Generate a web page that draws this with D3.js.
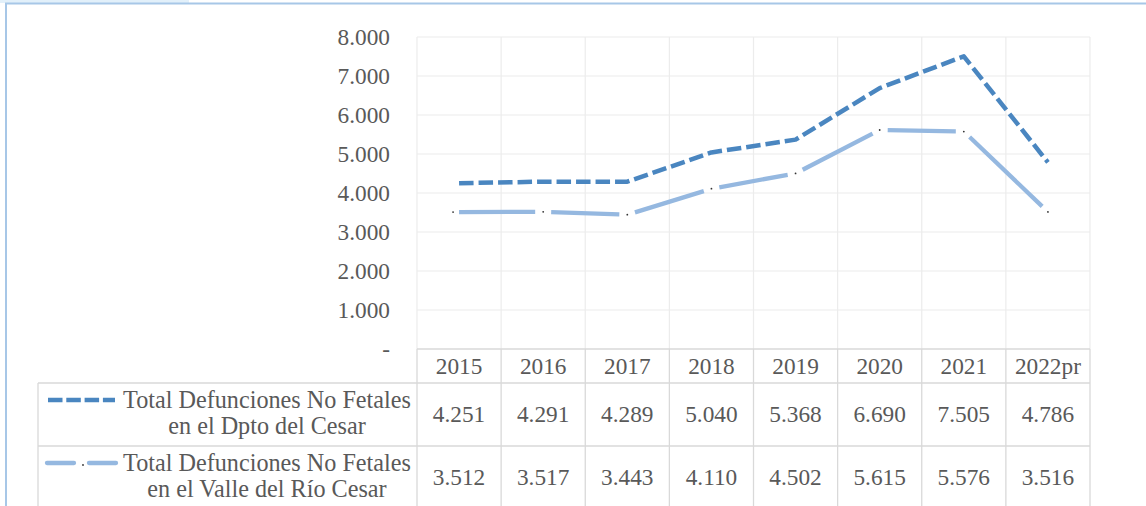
<!DOCTYPE html>
<html>
<head>
<meta charset="utf-8">
<script src="https://cdn.jsdelivr.net/npm/d3@7"></script>
<style>
    body { margin: 0; background: #fff; }
    svg { display: block; }
    .serif { font-family: "Liberation Serif", "Times New Roman", serif; }
</style>
</head>
<body>
<div id="chart"></div>
<script>
// chart data
var years = ["2015", "2016", "2017", "2018", "2019", "2020", "2021", "2022pr"];
var dptoCesar = [4251, 4291, 4289, 5040, 5368, 6690, 7505, 4786];
var valleCesar = [3512, 3517, 3443, 4110, 4502, 5615, 5576, 3516];
var yTicks = [0, 1000, 2000, 3000, 4000, 5000, 6000, 7000, 8000];
var seriesLabels = [
    ["Total Defunciones No Fetales", "en el Dpto del Cesar"],
    ["Total Defunciones No Fetales", "en el Valle del Río Cesar"]
];

var W = 1146, H = 506;
var plot = {left: 417, right: 1090, top: 37, bottom: 349};
var table = {left: 38, headBottom: 383, row1Bottom: 446, rowH: 63};
var fontSize = 23.3;
var legendSize = 24.2;
var textColor = "#595959";
var gridColor = "#ececec";
var tableColor = "#d9d9d9";
var col1 = "#4a86c0";
var col2 = "#95b8e0";

var esLocale = d3.formatLocale({decimal: ",", thousands: ".", grouping: [3], currency: ["$", ""]});
var fmt = esLocale.format(",");

var svg = d3.select("#chart").append("svg")
    .attr("class", "serif")
    .attr("width", W)
    .attr("height", H);

/**
 *  outer frame
 */
svg.append("rect").attr("x", 0).attr("y", 0).attr("width", 189).attr("height", 3).attr("fill", "#e2f0fa");
svg.append("path")
    .attr("d", "M6,506 L6,3.5 L1146,3.5")
    .attr("fill", "none")
    .attr("stroke", "#a7c7e7")
    .attr("stroke-width", 2);

var x = d3.scaleBand()
    .domain(years)
    .range([plot.left, plot.right])
    .padding(0);

var y = d3.scaleLinear()
    .domain([0, 8000])
    .range([plot.bottom, plot.top]);

function cx(d) { return x(d) + x.bandwidth() / 2; }

// horizontal gridlines
svg.append("g")
    .selectAll("line")
    .data(yTicks.filter(function (t) { return t > 0; }))
    .enter().append("line")
    .attr("x1", plot.left).attr("x2", plot.right)
    .attr("y1", function (d) { return y(d); })
    .attr("y2", function (d) { return y(d); })
    .attr("stroke", gridColor)
    .attr("stroke-width", 1.2);

// vertical gridlines at category edges
var edges = years.map(function (d) { return x(d); }).concat([plot.right]);
svg.append("g")
    .selectAll("line")
    .data(edges)
    .enter().append("line")
    .attr("x1", function (d) { return d; })
    .attr("x2", function (d) { return d; })
    .attr("y1", plot.top).attr("y2", plot.bottom)
    .attr("stroke", gridColor)
    .attr("stroke-width", 1.2);

// y axis labels
var yAxis = d3.axisLeft(y)
    .tickValues(yTicks)
    .tickSize(0)
    .tickPadding(27)
    .tickFormat(function (d) { return d === 0 ? "-" : fmt(d); });

var yg = svg.append("g")
    .attr("transform", "translate(" + plot.left + ",0)")
    .call(yAxis);
yg.select(".domain").remove();
yg.attr("font-family", null).attr("font-size", null);
yg.selectAll("text")
    .attr("fill", textColor)
    .style("font-size", fontSize + "px");

/**
 *  data table grid
 */
var tg = svg.append("g").attr("stroke", tableColor).attr("stroke-width", 1.3).attr("fill", "none");
tg.append("line").attr("x1", plot.left).attr("x2", plot.right).attr("y1", plot.bottom).attr("y2", plot.bottom);
tg.append("line").attr("x1", table.left).attr("x2", plot.right).attr("y1", table.headBottom).attr("y2", table.headBottom);
tg.append("line").attr("x1", table.left).attr("x2", plot.right).attr("y1", table.row1Bottom).attr("y2", table.row1Bottom);
tg.append("line").attr("x1", table.left).attr("x2", table.left).attr("y1", table.headBottom).attr("y2", H);
tg.selectAll("line.col")
    .data(edges)
    .enter().append("line")
    .attr("class", "col")
    .attr("x1", function (d) { return d; })
    .attr("x2", function (d) { return d; })
    .attr("y1", plot.bottom).attr("y2", H);

// header labels
svg.append("g")
    .selectAll("text")
    .data(years)
    .enter().append("text")
    .attr("x", cx)
    .attr("y", (plot.bottom + table.headBottom) / 2)
    .attr("dy", "0.34em")
    .attr("text-anchor", "middle")
    .attr("fill", textColor)
    .style("font-size", fontSize + "px")
    .text(function (d) { return d; });

// table values and series names
[dptoCesar, valleCesar].forEach(function (vals, r) {
    var mid = table.headBottom + table.rowH * r + table.rowH / 2;
    svg.append("g")
        .selectAll("text")
        .data(vals)
        .enter().append("text")
        .attr("x", function (d, i) { return cx(years[i]); })
        .attr("y", mid)
        .attr("dy", "0.34em")
        .attr("text-anchor", "middle")
        .attr("fill", textColor)
        .style("font-size", fontSize + "px")
        .text(function (d) { return fmt(d); });

    var lt = svg.append("text")
        .attr("text-anchor", "middle")
        .attr("fill", textColor)
        .style("font-size", legendSize + "px");
    lt.append("tspan").attr("x", 267).attr("y", mid - 7).text(seriesLabels[r][0]);
    lt.append("tspan").attr("x", 267).attr("y", mid + 19.8).text(seriesLabels[r][1]);
});

/**
 *  legend keys
 */
var k1y = 400, k2y = 463;
svg.append("line")
    .attr("x1", 48).attr("x2", 115).attr("y1", k1y).attr("y2", k1y)
    .attr("stroke", col1).attr("stroke-width", 4.5)
    .attr("stroke-dasharray", "14.5,3.8");
svg.append("line")
    .attr("x1", 47).attr("x2", 74).attr("y1", k2y).attr("y2", k2y)
    .attr("stroke", col2).attr("stroke-width", 4.3).attr("stroke-linecap", "round");
svg.append("line")
    .attr("x1", 89).attr("x2", 116).attr("y1", k2y).attr("y2", k2y)
    .attr("stroke", col2).attr("stroke-width", 4.3).attr("stroke-linecap", "round");
svg.append("circle").attr("cx", 83).attr("cy", k2y + 2).attr("r", 0.9).attr("fill", "#333");

/**
 *  series lines
 */
var line = d3.line()
    .x(function (d, i) { return cx(years[i]); })
    .y(function (d) { return y(d); });

svg.append("path")
    .datum(dptoCesar)
    .attr("d", line)
    .attr("fill", "none")
    .attr("stroke", col1)
    .attr("stroke-width", 4.5)
    .attr("stroke-linejoin", "round")
    .attr("stroke-dasharray", "14.5,5");

// long dash segments with small dots at each vertex
var pts = valleCesar.map(function (d, i) { return [cx(years[i]), y(d)]; });
var segs = [];
for (var i = 0; i < pts.length - 1; i++) {
    var p0 = pts[i], p1 = pts[i + 1];
    var dx = p1[0] - p0[0], dy = p1[1] - p0[1];
    var len = Math.sqrt(dx * dx + dy * dy);
    var ux = dx / len, uy = dy / len;
    var g0 = i === 0 ? 0 : 8, g1 = 8;
    segs.push([p0[0] + ux * g0, p0[1] + uy * g0, p1[0] - ux * g1, p1[1] - uy * g1]);
}
svg.append("g")
    .selectAll("line")
    .data(segs)
    .enter().append("line")
    .attr("x1", function (d) { return d[0]; })
    .attr("y1", function (d) { return d[1]; })
    .attr("x2", function (d) { return d[2]; })
    .attr("y2", function (d) { return d[3]; })
    .attr("stroke", col2)
    .attr("stroke-width", 4.3);
svg.append("g")
    .selectAll("circle")
    .data(pts.slice(1))
    .enter().append("circle")
    .attr("cx", function (d) { return d[0]; })
    .attr("cy", function (d) { return d[1]; })
    .attr("r", 0.9)
    .attr("fill", "#333");
svg.append("circle").attr("cx", pts[0][0] - 6).attr("cy", pts[0][1]).attr("r", 0.9).attr("fill", "#333");
</script>
</body>
</html>
